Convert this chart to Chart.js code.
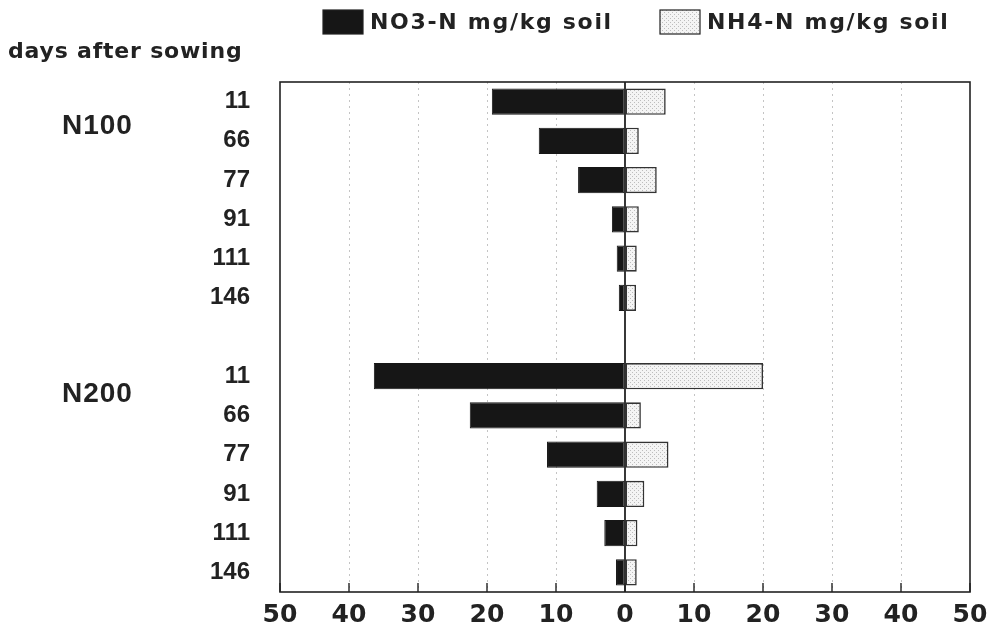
<!DOCTYPE html>
<html>
<head>
<meta charset="utf-8">
<script src="https://cdn.jsdelivr.net/npm/chart.js@4/dist/chart.umd.min.js"></script>
<style>
  body { margin: 0; background: #fff; }
  #wrap { width: 993px; height: 631px; }
</style>
</head>
<body>
<div id="wrap"><canvas id="grafica-nitrogeno" width="993" height="631"></canvas></div>
<script>
// days after sowing, two N levels, one empty row between them
var dias = ['11', '66', '77', '91', '111', '146'];
var grupos = ['N100', 'N200'];

var no3N100 = [19.3, 12.5, 6.8, 1.9, 1.2, 0.9];
var nh4N100 = [5.9, 2.0, 4.6, 2.0, 1.7, 1.6];
var no3N200 = [36.4, 22.5, 11.3, 4.1, 3.0, 1.3];
var nh4N200 = [20.0, 2.3, 6.3, 2.8, 1.8, 1.7];

var xTicks = [-50, -40, -30, -20, -10, 0, 10, 20, 30, 40, 50];

var etiquetas = dias.concat(['']).concat(dias);
var no3 = no3N100.map(function (v) { return -v; }).concat([null]).concat(no3N200.map(function (v) { return -v; }));
var nh4 = nh4N100.concat([null]).concat(nh4N200);

var FUENTE = "'Liberation Sans', Arial, sans-serif";
var ANCHA = "'DejaVu Sans', sans-serif";

// stipple fill for NH4
function punteado() {
    var c = document.createElement('canvas');
    c.width = 4; c.height = 4;
    var x = c.getContext('2d');
    x.fillStyle = '#f4f4f4';
    x.fillRect(0, 0, 4, 4);
    x.fillStyle = '#bdbdbd';
    x.fillRect(0, 0, 1, 1);
    x.fillRect(2, 2, 1, 1);
    return x.createPattern(c, 'repeat');
}
var relleno = punteado();

var extras = {
    id: 'extras',
    afterDatasetsDraw: function (chart) {
        var ctx = chart.ctx, a = chart.chartArea;
        var sx = chart.scales.x, sy = chart.scales.y;
        ctx.save();
        ctx.strokeStyle = '#222';
        // zero line
        ctx.lineWidth = 1.8;
        var x0 = sx.getPixelForValue(0);
        ctx.beginPath(); ctx.moveTo(x0, a.top); ctx.lineTo(x0, a.bottom); ctx.stroke();
        // frame
        ctx.lineWidth = 1.6;
        ctx.strokeRect(a.left, a.top, a.right - a.left, a.bottom - a.top);
        // inward ticks on the bottom axis
        ctx.lineWidth = 1.4;
        xTicks.forEach(function (t) {
            var px = sx.getPixelForValue(t);
            ctx.beginPath(); ctx.moveTo(px, a.bottom); ctx.lineTo(px, a.bottom - 9); ctx.stroke();
        });
        // group labels
        ctx.fillStyle = '#222';
        ctx.font = 'bold 28px ' + FUENTE;
        ctx.textAlign = 'left';
        ctx.textBaseline = 'middle';
        ctx.letterSpacing = '1px';
        var paso = sy.getPixelForValue(1) - sy.getPixelForValue(0);
        ctx.fillText(grupos[0], 62, sy.getPixelForValue(0) + paso * 0.63);
        ctx.fillText(grupos[1], 62, sy.getPixelForValue(7) + paso * 0.45);
        // axis caption
        ctx.font = 'bold 22px ' + ANCHA;
        ctx.letterSpacing = '0.8px';
        ctx.fillText('days after sowing', 8, 52);
        // legend
        var items = [
            { t: chart.data.datasets[0].label, f: chart.data.datasets[0].backgroundColor, x: 323 },
            { t: chart.data.datasets[1].label, f: chart.data.datasets[1].backgroundColor, x: 660 }
        ];
        ctx.font = 'bold 22px ' + ANCHA;
        items.forEach(function (it) {
            ctx.letterSpacing = '0px';
            ctx.fillStyle = it.f;
            ctx.fillRect(it.x, 10, 40, 24);
            ctx.lineWidth = 1.2;
            ctx.strokeRect(it.x, 10, 40, 24);
            ctx.fillStyle = '#222';
            ctx.letterSpacing = '1.7px';
            ctx.fillText(it.t, it.x + 47, 23);
        });
        ctx.restore();
    }
};

var ctx = document.getElementById('grafica-nitrogeno').getContext('2d');
new Chart(ctx, {
    type: 'bar',
    data: {
        labels: etiquetas,
        datasets: [
            {
                label: 'NO3-N mg/kg soil',
                data: no3,
                backgroundColor: '#161616',
                borderColor: '#161616',
                borderWidth: 1,
                borderSkipped: false
            }, {
                label: 'NH4-N mg/kg soil',
                data: nh4,
                backgroundColor: relleno,
                borderColor: '#333',
                borderWidth: 1.6,
                borderSkipped: false
            }
        ]
    },
    options: {
        indexAxis: 'y',
        responsive: false,
        animation: false,
        categoryPercentage: 1,
        barPercentage: 0.67,
        layout: { padding: { top: 82, right: 23, left: 0, bottom: 0 } },
        plugins: {
            legend: { display: false },
            tooltip: { enabled: false }
        },
        scales: {
            x: {
                stacked: true,
                min: -50,
                max: 50,
                afterBuildTicks: function (s) { s.ticks = xTicks.map(function (v) { return { value: v }; }); },
                afterFit: function (s) { s.height = 39; s.paddingLeft = 0; s.paddingRight = 0; },
                ticks: {
                    color: '#222',
                    padding: 8,
                    maxRotation: 0,
                    font: { family: ANCHA, size: 25, weight: 'bold' },
                    callback: function (v) { return Math.abs(v); }
                },
                grid: {
                    drawTicks: false,
                    lineWidth: 1,
                    color: function (c) {
                        var v = c.tick ? c.tick.value : 0;
                        return (v === 0 || Math.abs(v) === 50) ? 'rgba(0,0,0,0)' : '#c4c4c4';
                    }
                },
                border: { display: false, dash: [2, 4] }
            },
            y: {
                stacked: true,
                afterFit: function (s) { s.width = 280; },
                ticks: {
                    color: '#222',
                    padding: 22,
                    font: { family: FUENTE, size: 24, weight: 'bold' }
                },
                grid: { display: false },
                border: { display: false }
            }
        }
    },
    plugins: [extras]
});
</script>
</body>
</html>
